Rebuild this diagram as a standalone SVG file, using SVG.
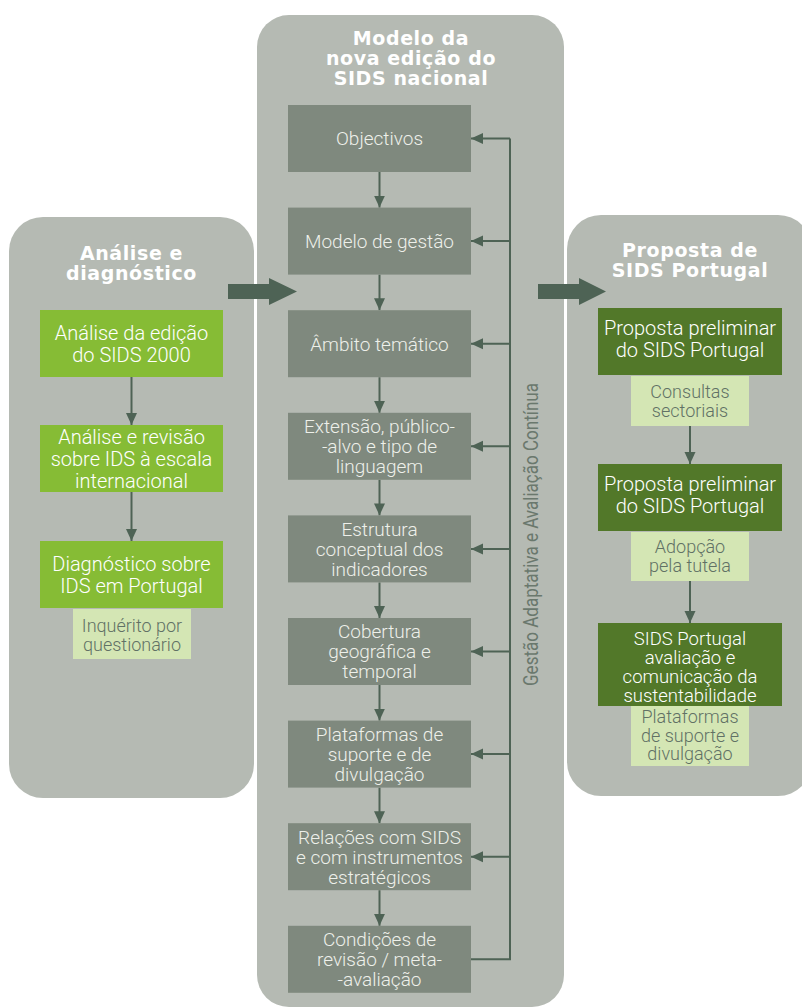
<svg xmlns="http://www.w3.org/2000/svg" width="802" height="1008" viewBox="0 0 802 1008">
<defs>
<style>
.panel{fill:#b5bab3}
.title{font-family:"DejaVu Sans",sans-serif;font-weight:bold;font-size:19px;fill:#ffffff;text-anchor:middle;letter-spacing:0.6px}
.gbox{fill:#7f897e}
.lgreen{fill:#86bc35}
.dgreen{fill:#527829}
.pale{fill:#d4e6b4}
.t{font-family:Roboto,"Liberation Sans",sans-serif;font-weight:300;font-size:19px;fill:#eef0ea;text-anchor:middle}
.tw{font-family:Roboto,"Liberation Sans",sans-serif;font-weight:300;font-size:20px;fill:#ffffff;text-anchor:middle}
.tw4{font-family:Roboto,"Liberation Sans",sans-serif;font-weight:300;font-size:18.5px;fill:#ffffff;text-anchor:middle}
.tp{font-family:Roboto,"Liberation Sans",sans-serif;font-weight:300;font-size:18px;fill:#617165;text-anchor:middle}
.conn{stroke:#4e6355;stroke-width:2;fill:none}
.big{fill:#4e6355}
.side{font-family:Roboto,"Liberation Sans",sans-serif;font-weight:400;font-size:20px;fill:#6a786d;text-anchor:middle}
</style>
<marker id="ah" viewBox="0 0 12 12" refX="12" refY="6" markerWidth="12" markerHeight="12" markerUnits="userSpaceOnUse" orient="auto">
<path d="M0,0.5 L12,6 L0,11.5 z" fill="#4e6355"/>
</marker>
</defs>
<rect width="802" height="1008" fill="#ffffff"/>

<g id="panel-left">
<rect class="panel" x="9" y="217" width="245" height="581" rx="34" ry="34"/>
<text class="title" x="131.5" y="260">Análise e</text>
<text class="title" x="131.5" y="280">diagnóstico</text>
</g>
<g id="panel-center">
<rect class="panel" x="257" y="15" width="307" height="992" rx="32" ry="32"/>
<text class="title" x="411" y="45">Modelo da</text>
<text class="title" x="411" y="65">nova edição do</text>
<text class="title" x="411" y="85">SIDS nacional</text>
</g>
<g id="panel-right">
<rect class="panel" x="567" y="215" width="245" height="581" rx="34" ry="34"/>
<text class="title" x="690" y="257">Proposta de</text>
<text class="title" x="690" y="277">SIDS Portugal</text>
</g>

<g id="connectors">
<polygon class="big" points="228,284 269,284 269,278 297,291.5 269,305 269,299 228,299"/>
<polygon class="big" points="538,284 579,284 579,278 606,291.5 579,305 579,299 538,299"/>
<line class="conn" x1="131.5" y1="377" x2="131.5" y2="425" marker-end="url(#ah)"/>
<line class="conn" x1="131.5" y1="492" x2="131.5" y2="541" marker-end="url(#ah)"/>
<line class="conn" x1="690" y1="426" x2="690" y2="464" marker-end="url(#ah)"/>
<line class="conn" x1="690" y1="581" x2="690" y2="623" marker-end="url(#ah)"/>
<line class="conn" x1="379.5" y1="172" x2="379.5" y2="207.6" marker-end="url(#ah)"/>
<line class="conn" x1="379.5" y1="274.6" x2="379.5" y2="310.2" marker-end="url(#ah)"/>
<line class="conn" x1="379.5" y1="377.2" x2="379.5" y2="412.8" marker-end="url(#ah)"/>
<line class="conn" x1="379.5" y1="479.8" x2="379.5" y2="515.4" marker-end="url(#ah)"/>
<line class="conn" x1="379.5" y1="582.4" x2="379.5" y2="618" marker-end="url(#ah)"/>
<line class="conn" x1="379.5" y1="685" x2="379.5" y2="720.6" marker-end="url(#ah)"/>
<line class="conn" x1="379.5" y1="787.6" x2="379.5" y2="823.2" marker-end="url(#ah)"/>
<line class="conn" x1="379.5" y1="890.2" x2="379.5" y2="925.8" marker-end="url(#ah)"/>
<polyline class="conn" points="471,959.3 510,959.3 510,138.5"/>
<line class="conn" x1="510" y1="138.5" x2="471" y2="138.5" marker-end="url(#ah)"/>
<line class="conn" x1="510" y1="241.1" x2="471" y2="241.1" marker-end="url(#ah)"/>
<line class="conn" x1="510" y1="343.7" x2="471" y2="343.7" marker-end="url(#ah)"/>
<line class="conn" x1="510" y1="446.3" x2="471" y2="446.3" marker-end="url(#ah)"/>
<line class="conn" x1="510" y1="548.9" x2="471" y2="548.9" marker-end="url(#ah)"/>
<line class="conn" x1="510" y1="651.5" x2="471" y2="651.5" marker-end="url(#ah)"/>
<line class="conn" x1="510" y1="754.1" x2="471" y2="754.1" marker-end="url(#ah)"/>
<line class="conn" x1="510" y1="856.7" x2="471" y2="856.7" marker-end="url(#ah)"/>
<text class="side" transform="translate(538,534.5) rotate(-90)" x="0" y="0" textLength="303" lengthAdjust="spacingAndGlyphs">Gestão Adaptativa e Avaliação Contínua</text>
</g>

<g id="left-1">
<rect class="lgreen" x="40" y="310" width="183" height="67"/>
<text class="tw" x="131.5" y="340">Análise da edição</text>
<text class="tw" x="131.5" y="362">do SIDS 2000</text>
</g>
<g id="left-2">
<rect class="lgreen" x="40" y="425" width="183" height="67"/>
<text class="tw" x="131.5" y="444">Análise e revisão</text>
<text class="tw" x="131.5" y="466">sobre IDS à escala</text>
<text class="tw" x="131.5" y="488">internacional</text>
</g>
<g id="left-3">
<rect class="lgreen" x="40" y="541" width="183" height="67"/>
<text class="tw" x="131.5" y="571">Diagnóstico sobre</text>
<text class="tw" x="131.5" y="593">IDS em Portugal</text>
</g>
<g id="left-3-note">
<rect class="pale" x="73" y="609" width="118" height="50"/>
<text class="tp" x="132" y="632">Inquérito por</text>
<text class="tp" x="132" y="651">questionário</text>
</g>

<g id="c-objectivos">
<rect class="gbox" x="288" y="105" width="183" height="67"/>
<text class="t" x="379.5" y="145">Objectivos</text>
</g>
<g id="c-gestao">
<rect class="gbox" x="288" y="207.6" width="183" height="67"/>
<text class="t" x="379.5" y="248">Modelo de gestão</text>
</g>
<g id="c-ambito">
<rect class="gbox" x="288" y="310.2" width="183" height="67"/>
<text class="t" x="379.5" y="350.5">Âmbito temático</text>
</g>
<g id="c-extensao">
<rect class="gbox" x="288" y="412.8" width="183" height="67"/>
<text class="t" x="379.5" y="433">Extensão, público-</text>
<text class="t" x="379.5" y="453">-alvo e tipo de</text>
<text class="t" x="379.5" y="473">linguagem</text>
</g>
<g id="c-estrutura">
<rect class="gbox" x="288" y="515.4" width="183" height="67"/>
<text class="t" x="379.5" y="535.5">Estrutura</text>
<text class="t" x="379.5" y="555.5">conceptual dos</text>
<text class="t" x="379.5" y="575.5">indicadores</text>
</g>
<g id="c-cobertura">
<rect class="gbox" x="288" y="618" width="183" height="67"/>
<text class="t" x="379.5" y="638">Cobertura</text>
<text class="t" x="379.5" y="658">geográfica e</text>
<text class="t" x="379.5" y="678">temporal</text>
</g>
<g id="c-plataformas">
<rect class="gbox" x="288" y="720.6" width="183" height="67"/>
<text class="t" x="379.5" y="741">Plataformas de</text>
<text class="t" x="379.5" y="761">suporte e de</text>
<text class="t" x="379.5" y="781">divulgação</text>
</g>
<g id="c-relacoes">
<rect class="gbox" x="288" y="823.2" width="183" height="67"/>
<text class="t" x="379.5" y="843.5">Relações com SIDS</text>
<text class="t" x="379.5" y="863.5">e com instrumentos</text>
<text class="t" x="379.5" y="883.5">estratégicos</text>
</g>
<g id="c-condicoes">
<rect class="gbox" x="288" y="925.8" width="183" height="67"/>
<text class="t" x="379.5" y="946">Condições de</text>
<text class="t" x="379.5" y="966">revisão / meta-</text>
<text class="t" x="379.5" y="986">-avaliação</text>
</g>

<g id="right-1">
<rect class="dgreen" x="598" y="308" width="184" height="67"/>
<text class="tw" x="690" y="335">Proposta preliminar</text>
<text class="tw" x="690" y="357">do SIDS Portugal</text>
</g>
<g id="right-1-note">
<rect class="pale" x="631" y="376" width="118" height="50"/>
<text class="tp" x="690" y="398">Consultas</text>
<text class="tp" x="690" y="417">sectoriais</text>
</g>
<g id="right-2">
<rect class="dgreen" x="598" y="464" width="184" height="67"/>
<text class="tw" x="690" y="491">Proposta preliminar</text>
<text class="tw" x="690" y="513">do SIDS Portugal</text>
</g>
<g id="right-2-note">
<rect class="pale" x="631" y="532" width="118" height="49"/>
<text class="tp" x="690" y="553">Adopção</text>
<text class="tp" x="690" y="572">pela tutela</text>
</g>
<g id="right-3">
<rect class="dgreen" x="598" y="623" width="184" height="83"/>
<text class="tw4" x="690" y="645">SIDS Portugal</text>
<text class="tw4" x="690" y="664">avaliação e</text>
<text class="tw4" x="690" y="683">comunicação da</text>
<text class="tw4" x="690" y="702">sustentabilidade</text>
</g>
<g id="right-3-note">
<rect class="pale" x="631" y="706" width="118" height="60"/>
<text class="tp" x="690" y="723">Plataformas</text>
<text class="tp" x="690" y="742">de suporte e</text>
<text class="tp" x="690" y="760">divulgação</text>
</g>
</svg>
